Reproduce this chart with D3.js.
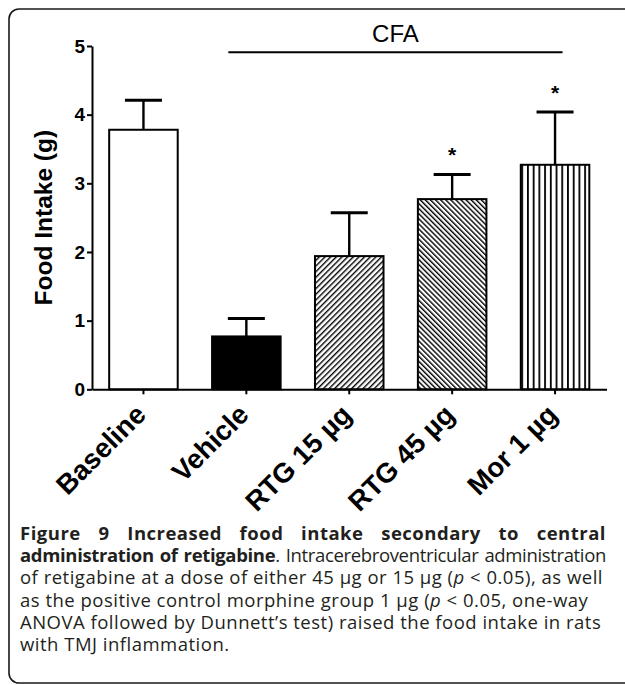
<!DOCTYPE html>
<html><head><meta charset="utf-8">
<script src="https://cdn.jsdelivr.net/npm/d3@7"></script>
<style>
body{margin:0;background:#fff;}
#wrap{position:relative;width:625px;height:685px;overflow:hidden;background:#fff;}
svg{position:absolute;left:0;top:0;}
#cap{position:absolute;left:20px;top:521.7px;width:586px;font-family:"Open Sans",sans-serif;font-size:18.5px;color:#231f20;}
.ln{height:22.3px;line-height:22.3px;white-space:nowrap;}
</style></head>
<body><div id="wrap"><svg id="chart" width="625" height="685"></svg><div id="cap"></div></div>
<script>
// ---- data ----
const categories = ["Baseline", "Vehicle", "RTG 15 µg", "RTG 45 µg", "Mor 1 µg"];
const means = [3.78, 0.77, 1.94, 2.77, 3.27];
const errUp = [0.43, 0.26, 0.63, 0.36, 0.77];
const marks = ["", "", "", "*", "*"];
const yTicks = [0, 1, 2, 3, 4, 5];
const yTitle = "Food Intake (g)";
const groupLabel = "CFA";
const groupFrom = "Vehicle";
const groupTo = "Mor 1 µg";
const groupLevel = 4.91;
const captionLines = [
  {html: "<b>Figure 9 Increased food intake secondary to central</b>", justify: true},
  {html: "<b>administration of retigabine</b>. Intracerebroventricular administration", justify: true},
  {html: "of retigabine at a dose of either 45 µg or 15 µg (<i>p</i> &lt; 0.05), as well", justify: false},
  {html: "as the positive control morphine group 1 µg (<i>p</i> &lt; 0.05, one-way", justify: false},
  {html: "ANOVA followed by Dunnett’s test) raised the food intake in rats", justify: false},
  {html: "with TMJ inflammation.", justify: false}
];

// ---- styles ----
const fillStyle = ["white", "black", "fwd", "back", "vert"];
const FONT = '"Liberation Sans", Arial, sans-serif';

const svg = d3.select("#chart");

// frame
svg.append("rect").attr("x", 9).attr("y", 9).attr("width", 720).attr("height", 674)
  .attr("rx", 10).attr("fill", "none").attr("stroke", "#1a1a1a").attr("stroke-width", 1.6);

const y = d3.scaleLinear().domain([0, 5]).range([389.3, 46]);
const x = d3.scaleBand().domain(categories).range([92, 606.5]).paddingInner(0.334).paddingOuter(0.167);
const bw = x.bandwidth();

const defs = svg.append("defs");
function hatch(id, angle, spacing, sw, x0) {
  const p = defs.append("pattern").attr("id", id).attr("patternUnits", "userSpaceOnUse")
    .attr("width", spacing).attr("height", 20)
    .attr("patternTransform", `translate(${x0},0) rotate(${angle})`);
  p.append("rect").attr("width", spacing).attr("height", 20).attr("fill", "white");
  p.append("rect").attr("x", 0).attr("width", sw).attr("height", 20).attr("fill", "black");
}
categories.forEach((c, i) => {
  const s = fillStyle[i];
  if (s === "fwd") hatch("p" + i, 45, 4.0, 1.4, x(c));
  if (s === "back") hatch("p" + i, -45, 3.6, 1.4, x(c));
  if (s === "vert") hatch("p" + i, 0, 5.72, 1.8, x(c) + 0.5);
});

// bars
svg.append("g").selectAll("rect").data(categories).join("rect")
  .attr("x", d => x(d)).attr("width", bw)
  .attr("y", (d, i) => y(means[i])).attr("height", (d, i) => y(0) - y(means[i]))
  .attr("fill", (d, i) => {
    const s = fillStyle[i];
    return s === "white" ? "#fff" : s === "black" ? "#000" : `url(#p${i})`;
  })
  .attr("stroke", "#000").attr("stroke-width", 2);

// error bars
const eg = svg.append("g");
categories.forEach((c, i) => {
  const cx = x(c) + bw / 2;
  const top = y(means[i] + errUp[i]);
  eg.append("line").attr("x1", cx).attr("x2", cx).attr("y1", y(means[i])).attr("y2", top)
    .attr("stroke", "#000").attr("stroke-width", 2.4);
  eg.append("line").attr("x1", cx - 18.5).attr("x2", cx + 18.5).attr("y1", top).attr("y2", top)
    .attr("stroke", "#000").attr("stroke-width", 3);
  if (marks[i]) {
    eg.append("text").attr("x", cx).attr("y", top - 12).attr("text-anchor", "middle")
      .attr("font-family", FONT).attr("font-size", 21).attr("font-weight", "bold").text(marks[i]);
  }
});

// axes
const yAxis = svg.append("g").attr("transform", "translate(92,0)")
  .call(d3.axisLeft(y).tickValues(yTicks).tickSize(5).tickSizeOuter(0).tickPadding(2).tickFormat(d3.format("d")));
yAxis.select(".domain").attr("stroke", "#000").attr("stroke-width", 2);
yAxis.selectAll(".tick line").attr("stroke", "#000").attr("stroke-width", 2);
yAxis.selectAll(".tick text").attr("font-family", FONT).attr("font-size", 19).attr("font-weight", "bold").attr("fill", "#000");

const xAxis = svg.append("g").attr("transform", `translate(0,${y(0)})`)
  .call(d3.axisBottom(x).tickSize(5).tickSizeOuter(0).tickFormat(""));
xAxis.select(".domain").attr("stroke", "#000").attr("stroke-width", 2);
xAxis.selectAll(".tick line").attr("stroke", "#000").attr("stroke-width", 2);
xAxis.selectAll(".tick").append("text")
  .attr("transform", "translate(4,27) rotate(-45)")
  .attr("text-anchor", "end").attr("fill", "#000")
  .attr("font-family", FONT).attr("font-size", 27.5).attr("font-weight", "bold")
  .text(d => d);

// y title
svg.append("text").attr("transform", `translate(52,${y(2.5)}) rotate(-90)`)
  .attr("text-anchor", "middle").attr("font-family", FONT).attr("font-size", 24.5)
  .attr("font-weight", "bold").text(yTitle);

// group bracket
const gx1 = x(groupFrom) + bw / 2 - 18, gx2 = x(groupTo) + bw / 2 + 7.5;
svg.append("line").attr("x1", gx1).attr("x2", gx2).attr("y1", y(groupLevel)).attr("y2", y(groupLevel))
  .attr("stroke", "#000").attr("stroke-width", 2);
svg.append("text").attr("x", (gx1 + gx2) / 2).attr("y", y(groupLevel) - 10).attr("text-anchor", "middle")
  .attr("font-family", FONT).attr("font-size", 24).text(groupLabel);

// caption
const cap = d3.select("#cap");
const spans = cap.selectAll("div").data(captionLines).join("div").attr("class", "ln")
  .append("span").html(d => d.html);
// letter-spacing fitted so the third line ends where the reference's does
const s3 = spans.nodes()[2];
const natW = s3.getBoundingClientRect().width;
const ls = (583 - natW) / s3.textContent.length;
cap.style("letter-spacing", ls + "px");
// justified lines: fill the full width
spans.each(function (d) {
  if (!d.justify) return;
  const div = d3.select(this.parentNode);
  const w = this.getBoundingClientRect().width;
  const n = this.textContent.length;
  const gaps = (this.textContent.match(/ /g) || []).length;
  const minGap = 1.5;
  let extra = 586 - w;
  if (extra < gaps * minGap) {
    const tighten = (gaps * minGap - extra) / n;
    div.style("letter-spacing", (ls - tighten) + "px");
    extra = gaps * minGap;
  }
  div.style("word-spacing", (extra / gaps) + "px");
});
</script></body></html>
